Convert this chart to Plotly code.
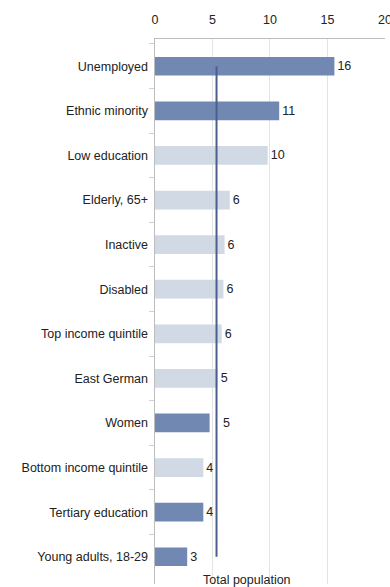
import plotly.graph_objects as go

categories = ["Unemployed", "Ethnic minority", "Low education", "Elderly, 65+", "Inactive",
              "Disabled", "Top income quintile", "East German", "Women",
              "Bottom income quintile", "Tertiary education", "Young adults, 18-29"]
values = [15.6, 10.8, 9.8, 6.5, 6.05, 5.95, 5.8, 5.45, 4.75, 4.2, 4.2, 2.8]
labels = ["16", "11", "10", "6", "6", "6", "6", "5", "5", "4", "4", "3"]
highlight = [True, True, False, False, False, False, False, False, True, False, True, True]
total_population = 5.35
x_ticks = [0, 5, 10, 15, 20]

DARK = "#7188b3"
LIGHT = "#d1d9e5"
LINE = "#4b5f8f"
FONT = "Liberation Sans, Arial, sans-serif"

# labels that would collide with the reference line are nudged past it
shown = [("   " + l) if v < total_population < v + 0.7 else l for v, l in zip(values, labels)]

fig = go.Figure()
fig.add_trace(go.Bar(
    x=values, y=categories, orientation="h",
    marker=dict(color=[DARK if h else LIGHT for h in highlight], line=dict(width=0)),
    width=0.42,
    text=shown, textposition="outside", cliponaxis=False,
    textfont=dict(family=FONT, size=12.5, color="#222"),
    hoverinfo="skip",
))
fig.add_trace(go.Scatter(
    x=[total_population, total_population], y=[categories[0], categories[-1]],
    mode="lines", line=dict(color=LINE, width=2), hoverinfo="skip",
))
fig.add_annotation(
    x=total_population, xref="x", y=0, yref="paper", yanchor="middle",
    text="Total population", showarrow=False, yshift=4, xshift=30,
    font=dict(family=FONT, size=12.5, color="#222"),
)
fig.update_layout(
    width=390, height=587,
    margin=dict(l=155, r=5, t=39, b=3),
    paper_bgcolor="white", plot_bgcolor="white",
    showlegend=False,
    font=dict(family=FONT, size=12.5, color="#222"),
    xaxis=dict(side="top", range=[0, 20.001], tickvals=x_ticks, showgrid=True,
               gridcolor="#e4e4e4", gridwidth=1, showline=True, linecolor="#bdbdbd",
               ticks="", zeroline=False, tickfont=dict(size=12.5), automargin=False,
               ticklabeloverflow="allow", ticklabelstandoff=9),
    yaxis=dict(categoryorder="array", categoryarray=categories, autorange="reversed",
               showline=True, linecolor="#bdbdbd", ticks="outside", tickson="boundaries",
               ticklen=5, tickcolor="#d0d0d0", showgrid=False, ticksuffix=" ",
               tickfont=dict(size=12.5), automargin=False),
)
fig.write_html("out.html", config={"displayModeBar": False},
               post_script="document.body.style.margin='0';document.body.style.overflow='hidden';")
